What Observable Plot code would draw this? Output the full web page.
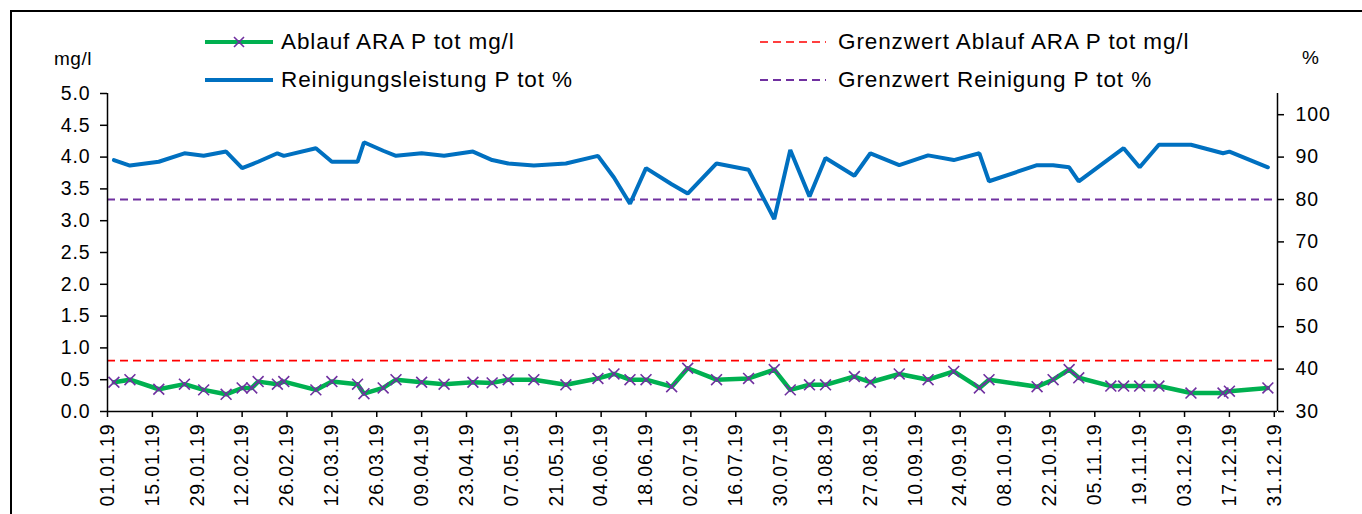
<!DOCTYPE html>
<html>
<head>
<meta charset="utf-8">
<script src="https://cdn.jsdelivr.net/npm/d3@7"></script>
<script src="https://cdn.jsdelivr.net/npm/@observablehq/plot@0.6"></script>
<style>
  html, body { margin: 0; padding: 0; background: #fff; overflow: hidden; }
  body { width: 1362px; height: 514px; position: relative; font-family: "Liberation Sans", Arial, sans-serif; }
  #frame { position: absolute; left: 10px; top: 10px; width: 1400px; height: 600px; border: 2px solid #000; box-sizing: border-box; }
  #chart { position: absolute; left: 0; top: 0; }
  .leg { position: absolute; display: flex; align-items: center; font-size: 22.5px; letter-spacing: 0.9px; color: #000; white-space: nowrap; }
  .leg svg { margin-right: 8px; }
  .unit { position: absolute; font-size: 19px; letter-spacing: 0.5px; }
</style>
</head>
<body>
<div id="frame"></div>
<div id="chart"></div>
<div class="leg" style="left:205px; top:29px;"><svg width="68" height="16"><line x1="0" y1="8" x2="68" y2="8" stroke="#00B050" stroke-width="4"/><path d="M29,3 L39,13 M39,3 L29,13" stroke="#7030A0" stroke-width="1.6"/></svg><span>Ablauf ARA P tot mg/l</span></div>
<div class="leg" style="left:205px; top:67px;"><svg width="68" height="16"><line x1="0" y1="8" x2="68" y2="8" stroke="#0070C0" stroke-width="4"/></svg><span>Reinigungsleistung P tot %</span></div>
<div class="leg" style="left:760px; top:29px;"><svg width="68" height="16"><line x1="0" y1="8" x2="66" y2="8" stroke="#FF0000" stroke-width="1.6" stroke-dasharray="8,5"/></svg><span style="margin-left:2px">Grenzwert Ablauf ARA P tot mg/l</span></div>
<div class="leg" style="left:760px; top:67px;"><svg width="68" height="16"><line x1="0" y1="8" x2="66" y2="8" stroke="#7030A0" stroke-width="2" stroke-dasharray="8,5"/></svg><span style="margin-left:2px">Grenzwert Reinigung P tot %</span></div>
<div class="unit" style="left:54px; top:48px;">mg/l</div>
<div class="unit" style="left:1302px; top:47px;">%</div>
<script>
// Sample dates
const dates = [
  "2019-01-03","2019-01-08","2019-01-17","2019-01-25","2019-01-31","2019-02-07","2019-02-12","2019-02-15",
  "2019-02-17","2019-02-23","2019-02-25","2019-03-07","2019-03-12","2019-03-20","2019-03-22","2019-03-28",
  "2019-04-01","2019-04-09","2019-04-16","2019-04-25","2019-05-01","2019-05-06","2019-05-14","2019-05-24",
  "2019-06-03","2019-06-08","2019-06-13","2019-06-18","2019-06-26","2019-07-01","2019-07-10","2019-07-20",
  "2019-07-28","2019-08-02","2019-08-08","2019-08-13","2019-08-22","2019-08-27","2019-09-05","2019-09-14",
  "2019-09-22","2019-09-30","2019-10-03","2019-10-18","2019-10-23","2019-10-28","2019-10-31","2019-11-10",
  "2019-11-14","2019-11-19","2019-11-25","2019-12-05","2019-12-15","2019-12-17","2019-12-29"
];
// Ablauf ARA P tot mg/l
const ablauf = [
  0.46,0.50,0.35,0.43,0.34,0.27,0.37,0.37,
  0.47,0.43,0.47,0.34,0.47,0.43,0.28,0.37,
  0.50,0.46,0.43,0.46,0.45,0.50,0.50,0.42,
  0.52,0.59,0.50,0.50,0.39,0.68,0.50,0.52,
  0.66,0.34,0.42,0.42,0.55,0.46,0.59,0.50,
  0.63,0.37,0.50,0.39,0.50,0.66,0.53,0.40,
  0.40,0.40,0.40,0.29,0.29,0.32,0.37
];
// Reinigungsleistung P tot %
const reinigung = [
  89.3,88.0,88.9,90.9,90.3,91.3,87.4,88.3,
  88.9,90.9,90.3,92.1,88.9,88.9,93.5,91.5,
  90.3,90.9,90.3,91.3,89.3,88.5,88.0,88.5,
  90.3,85.2,79.0,87.4,83.6,81.4,88.5,87.0,
  75.4,91.7,80.7,89.8,85.6,90.9,88.1,90.4,
  89.3,90.9,84.3,88.1,88.1,87.6,84.3,89.9,
  92.1,87.6,92.9,92.9,90.9,91.3,87.6
];
const grenzAblauf = 0.8;     // mg/l
const grenzReinigung = 80;   // %
const leftTicks = [0,0.5,1,1.5,2,2.5,3,3.5,4,4.5,5];
const rightTicks = [30,40,50,60,70,80,90,100];
const xTickLabels = ["01.01.19","15.01.19","29.01.19","12.02.19","26.02.19","12.03.19","26.03.19","09.04.19","23.04.19",
  "07.05.19","21.05.19","04.06.19","18.06.19","02.07.19","16.07.19","30.07.19","13.08.19","27.08.19","10.09.19",
  "24.09.19","08.10.19","22.10.19","05.11.19","19.11.19","03.12.19","17.12.19","31.12.19"];
const xStart = "2019-01-01", xEnd = "2020-01-01";

const toY = p => (p - 30) / 15;      // % -> mg/l axis (30..105 -> 0..5)
const fromY = v => v * 15 + 30;
const parseLabel = s => new Date(`20${s.slice(6, 8)}-${s.slice(3, 5)}-${s.slice(0, 2)}`);

const data = dates.map((d, i) => ({date: new Date(d), mg: ablauf[i], pct: reinigung[i]}));
const x0 = new Date(xStart), x1 = new Date(xEnd);
const xTicks = xTickLabels.map(parseLabel);

const plot = Plot.plot({
  width: 1362,
  height: 514,
  marginTop: 93,
  marginBottom: 103,
  marginLeft: 107,
  marginRight: 85,
  style: {fontFamily: "'Liberation Sans', Arial, sans-serif", fontSize: "19.5px", letterSpacing: "0.9px", color: "#000", background: "transparent"},
  x: {type: "utc", domain: [x0, x1]},
  y: {domain: [0, 5]},
  marks: [
    Plot.ruleY([grenzAblauf], {stroke: "#FF0000", strokeWidth: 1.6, strokeDasharray: "8,5"}),
    Plot.ruleY([toY(grenzReinigung)], {stroke: "#7030A0", strokeWidth: 2, strokeDasharray: "8,5"}),
    Plot.line(data, {x: "date", y: d => toY(d.pct), stroke: "#0070C0", strokeWidth: 4, strokeLinejoin: "miter"}),
    Plot.line(data, {x: "date", y: "mg", stroke: "#00B050", strokeWidth: 4.5}),
    Plot.dot(data, {x: "date", y: "mg", symbol: "times", r: 5, stroke: "#7030A0", strokeWidth: 1.6}),
    Plot.ruleX([x0], {y1: 0, y2: 5, stroke: "#000", strokeWidth: 1.5}),
    Plot.ruleX([x1], {y1: 0, y2: 5, stroke: "#000", strokeWidth: 1.5}),
    Plot.ruleY([0], {stroke: "#000", strokeWidth: 1.5}),
    Plot.axisY(leftTicks, {anchor: "left", tickFormat: d => d.toFixed(1), tickSize: 7, tickPadding: 10, strokeWidth: 1.5, label: null}),
    Plot.axisY(rightTicks.map(toY), {anchor: "right", tickFormat: d => Math.round(fromY(d)), tickSize: 6, tickPadding: 12, strokeWidth: 1.5, label: null}),
    Plot.axisX(xTicks, {anchor: "bottom", tickRotate: -90, textAnchor: "end", tickFormat: d3.utcFormat("%d.%m.%y"), tickSize: 6, tickPadding: 6, strokeWidth: 1.5, label: null})
  ]
});
document.getElementById("chart").appendChild(plot);
</script>
</body>
</html>
